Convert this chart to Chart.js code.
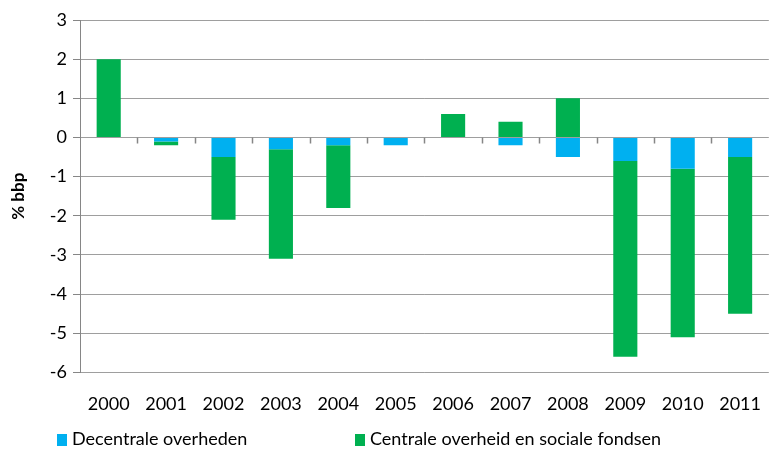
<!DOCTYPE html>
<html>
<head>
<meta charset="utf-8">
<script src="https://cdn.jsdelivr.net/npm/chart.js@4"></script>
<style>
  html, body { margin: 0; padding: 0; background: #fff; }
  #wrap { position: relative; width: 774px; height: 459px; }
  #legend { position: absolute; top: 426px; left: 0; width: 774px; height: 26px;
    font-family: Lato, "Liberation Sans", sans-serif; font-size: 18px; color: #000; }
  #legend span.item { position: absolute; top: 0; white-space: nowrap; line-height: 24px; }
  #legend span.box { display: inline-block; width: 10px; height: 12px; margin-right: 5px; vertical-align: -1px; }
</style>
</head>
<body>
<div id="wrap">
  <canvas id="deficitChart" width="774" height="459"></canvas>
  <div id="legend"></div>
</div>
<script>
  // years on the category axis
  const years = [`2000`, `2001`, `2002`, `2003`, `2004`, `2005`, `2006`, `2007`, `2008`, `2009`, `2010`, `2011`];
  // % bbp per year
  const decentraal = [0, -0.1, -0.5, -0.3, -0.2, -0.2, 0, -0.2, -0.5, -0.6, -0.8, -0.5];
  const centraal = [2, -0.1, -1.6, -2.8, -1.6, 0, 0.6, 0.4, 1.0, -5.0, -4.3, -4.0];
  const yTicks = { min: -6, max: 3, step: 1 };

  const font = `Lato, "Liberation Sans", sans-serif`;
  const gridGrey = `#9e9e9e`;
  const axisGrey = `#868686`;

  // small tick marks hanging below the zero line, between the years
  const zeroTicks = {
    id: `zeroTicks`,
    afterDatasetsDraw(chart) {
      const x = chart.scales.x,
        y = chart.scales.y,
        ctx = chart.ctx;
      const y0 = Math.round(y.getPixelForValue(0)) + 0.5;
      ctx.save();
      ctx.strokeStyle = axisGrey;
      ctx.lineWidth = 1.5;
      ctx.beginPath();
      for (let i = 1; i < years.length; i++) {
        const px = Math.round((x.getPixelForTick(i - 1) + x.getPixelForTick(i)) / 2) + 0.5;
        ctx.moveTo(px, y0);
        ctx.lineTo(px, y0 + 6);
      }
      ctx.stroke();
      ctx.restore();
    },
  };

  const cfg = {
    type: `bar`,
    data: {
      labels: years,
      datasets: [
        {
          label: `Decentrale overheden`,
          data: decentraal,
          backgroundColor: `#00b0f0`,
          barPercentage: 0.42,
          categoryPercentage: 1,
        },
        {
          label: `Centrale overheid en sociale fondsen`,
          data: centraal,
          backgroundColor: `#00b050`,
          barPercentage: 0.42,
          categoryPercentage: 1,
        },
      ],
    },
    options: {
      responsive: false,
      animation: false,
      layout: { padding: { top: 20, right: 0, left: 8, bottom: 31 } },
      plugins: {
        tooltip: { enabled: false },
        legend: { display: false },
      },
      scales: {
        x: {
          stacked: true,
          grid: { display: false },
          border: { display: false },
          ticks: {
            font: { family: font, size: 18 },
            color: `#000`,
            padding: 13,
            maxRotation: 0,
            autoSkip: false,
          },
        },
        y: {
          stacked: true,
          min: yTicks.min,
          max: yTicks.max,
          afterFit: (s) => {
            s.width = 72;
          },
          ticks: {
            stepSize: yTicks.step,
            font: { family: font, size: 18 },
            color: `#000`,
            padding: 6,
          },
          grid: {
            color: gridGrey,
            lineWidth: 1,
            tickLength: 7,
            tickColor: axisGrey,
          },
          border: { color: axisGrey, width: 1 },
          title: {
            display: true,
            text: `% bbp`,
            font: { family: font, size: 17, weight: `bold` },
            color: `#000`,
            padding: 0,
          },
        },
      },
    },
    plugins: [zeroTicks],
  };

  const chart = new Chart(document.getElementById(`deficitChart`), cfg);

  // legend as plain html under the canvas
  const legendPos = [57, 355];
  const legend = document.getElementById(`legend`);
  cfg.data.datasets.forEach((ds, i) => {
    const item = document.createElement(`span`);
    item.className = `item`;
    item.style.left = `${legendPos[i]}px`;
    const box = document.createElement(`span`);
    box.className = `box`;
    box.style.background = ds.backgroundColor;
    item.appendChild(box);
    item.appendChild(document.createTextNode(ds.label));
    legend.appendChild(item);
  });
</script>
</body>
</html>
